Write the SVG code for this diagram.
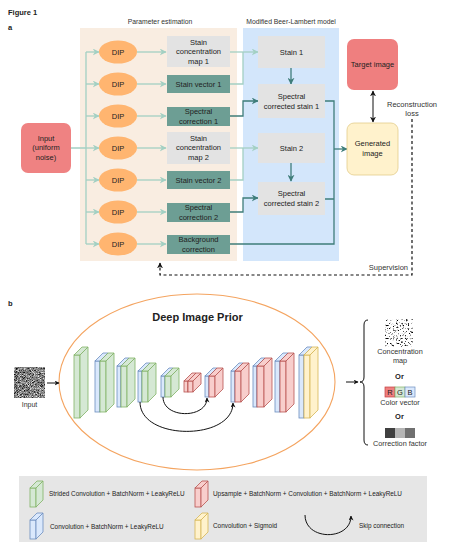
<svg xmlns="http://www.w3.org/2000/svg" width="474" height="552" viewBox="0 0 474 552">
<style>
text{font-family:"Liberation Sans",Arial,sans-serif;fill:#222}
.lbl{font-size:6.8px;fill:#333}
.bx{font-size:7.5px;text-anchor:middle}
.lg{font-size:6.4px}
.g{fill:#d5e8d4;stroke:#82b366;stroke-width:0.8}
.b{fill:#dae8fc;stroke:#6c8ebf;stroke-width:0.8}
.r{fill:#f8cecc;stroke:#b85450;stroke-width:0.8}
.y{fill:#fff2cc;stroke:#d6b656;stroke-width:0.8}
.gray{fill:#e3e3e3}
.teal{fill:#6d9e94}
.dip{fill:#ffb570}
.pale{fill:none;stroke:#a3d0c3;stroke-width:1.3}
.dark{fill:none;stroke:#3f7d7a;stroke-width:1.3}
.blk{fill:none;stroke:#111;stroke-width:1}
</style>
<defs>
<marker id="ap" viewBox="0 0 10 10" refX="9" refY="5" markerWidth="7" markerHeight="7" markerUnits="userSpaceOnUse" orient="auto-start-reverse"><path d="M0,0 L10,5 L0,10 L3,5 z" fill="#a3d0c3"/></marker>
<marker id="ad" viewBox="0 0 10 10" refX="9" refY="5" markerWidth="7" markerHeight="7" markerUnits="userSpaceOnUse" orient="auto-start-reverse"><path d="M0,0 L10,5 L0,10 L3,5 z" fill="#3f7d7a"/></marker>
<marker id="ak" viewBox="0 0 10 10" refX="9" refY="5" markerWidth="6" markerHeight="6" markerUnits="userSpaceOnUse" orient="auto-start-reverse"><path d="M0,0 L10,5 L0,10 L3,5 z" fill="#111"/></marker>
<marker id="aks" viewBox="0 0 10 10" refX="9" refY="5" markerWidth="5" markerHeight="5" markerUnits="userSpaceOnUse" orient="auto-start-reverse"><path d="M0,0 L10,5 L0,10 L3,5 z" fill="#111"/></marker>
<filter id="fn" x="0" y="0" width="1" height="1" color-interpolation-filters="sRGB">
<feTurbulence type="fractalNoise" baseFrequency="1.5" numOctaves="2" seed="7"/>
<feColorMatrix type="matrix" values="1 0 0 0 0 1 0 0 0 0 1 0 0 0 0 0 0 0 0 1"/>
<feComponentTransfer><feFuncR type="linear" slope="1.7" intercept="-0.35"/><feFuncG type="linear" slope="1.7" intercept="-0.35"/><feFuncB type="linear" slope="1.7" intercept="-0.35"/></feComponentTransfer>
</filter>
<filter id="fc" x="0" y="0" width="1" height="1" color-interpolation-filters="sRGB">
<feTurbulence type="fractalNoise" baseFrequency="0.6" numOctaves="3" seed="11"/>
<feColorMatrix type="matrix" values="1 0 0 0 0 1 0 0 0 0 1 0 0 0 0 0 0 0 0 1"/>
<feComponentTransfer><feFuncR type="linear" slope="5" intercept="-1.2"/><feFuncG type="linear" slope="5" intercept="-1.2"/><feFuncB type="linear" slope="5" intercept="-1.2"/></feComponentTransfer>
</filter>
</defs>
<rect width="474" height="552" fill="#fff"/>

<text x="8" y="15" style="font-size:7.5px;font-weight:bold">Figure 1</text>
<text x="8" y="30" style="font-size:7.5px;font-weight:bold">a</text>
<text x="8" y="306" style="font-size:7.5px;font-weight:bold">b</text>

<!-- panels -->
<g id="panel-param">
<rect x="80" y="28" width="157" height="233" fill="#f9ede1"/>
<text class="lbl" x="160" y="24" text-anchor="middle">Parameter estimation</text>
</g>
<g id="panel-mbl">
<rect x="243" y="28" width="96" height="233" fill="#d3e6fb"/>
<text class="lbl" x="291" y="24" text-anchor="middle">Modified Beer-Lambert model</text>
</g>

<!-- connectors part a -->
<g id="connectors-a">
<path class="pale" d="M71 148 H86 M86 52 V244"/>
<path class="pale" marker-end="url(#ap)" d="M86 52 H99"/>
<path class="pale" marker-end="url(#ap)" d="M86 84 H99"/>
<path class="pale" marker-end="url(#ap)" d="M86 116 H99"/>
<path class="pale" marker-end="url(#ap)" d="M86 148 H99"/>
<path class="pale" marker-end="url(#ap)" d="M86 180 H99"/>
<path class="pale" marker-end="url(#ap)" d="M86 212 H99"/>
<path class="pale" marker-end="url(#ap)" d="M86 244 H99"/>
<path class="pale" marker-end="url(#ap)" d="M137 52 H166"/>
<path class="pale" marker-end="url(#ap)" d="M137 84 H166"/>
<path class="pale" marker-end="url(#ap)" d="M137 116 H166"/>
<path class="pale" marker-end="url(#ap)" d="M137 148 H166"/>
<path class="pale" marker-end="url(#ap)" d="M137 180 H166"/>
<path class="pale" marker-end="url(#ap)" d="M137 212 H166"/>
<path class="pale" marker-end="url(#ap)" d="M137 244 H166"/>
<path class="pale" marker-end="url(#ap)" d="M230 52 H258"/>
<path class="pale" d="M230 84 H243 V52"/>
<path class="pale" marker-end="url(#ap)" d="M230 148 H258"/>
<path class="pale" d="M230 180 H243 V148"/>
<path class="dark" marker-end="url(#ad)" d="M230 116 H243 V101 H258"/>
<path class="dark" marker-end="url(#ad)" d="M230 212 H243 V198 H258"/>
<path class="dark" marker-end="url(#ad)" d="M291 68 V84"/>
<path class="dark" marker-end="url(#ad)" d="M291 163 V181"/>
<path class="dark" d="M325 101 H334 V244 H230 M325 199 H334"/>
<path class="dark" marker-end="url(#ad)" d="M334 149 H347"/>
<path class="blk" stroke-width="1.3" marker-start="url(#ak)" marker-end="url(#ak)" d="M373 91 V122"/>
<path fill="none" stroke="#111" stroke-width="1.2" stroke-dasharray="3,2.5" marker-end="url(#ak)" d="M412 119 V275 H160 V263"/>
</g>

<g id="input"><rect x="21" y="123" width="50" height="50" rx="7" fill="#ef8282"/>
<text class="bx" x="46" y="140.5">Input</text><text class="bx" x="46" y="150">(uniform</text><text class="bx" x="46" y="159.5">noise)</text></g>

<g id="dip1"><ellipse class="dip" cx="118" cy="52" rx="19" ry="11.5"/><text class="bx" x="118" y="54.7">DIP</text></g>
<g id="dip2"><ellipse class="dip" cx="118" cy="84" rx="19" ry="11.5"/><text class="bx" x="118" y="86.7">DIP</text></g>
<g id="dip3"><ellipse class="dip" cx="118" cy="116" rx="19" ry="11.5"/><text class="bx" x="118" y="118.7">DIP</text></g>
<g id="dip4"><ellipse class="dip" cx="118" cy="148" rx="19" ry="11.5"/><text class="bx" x="118" y="150.7">DIP</text></g>
<g id="dip5"><ellipse class="dip" cx="118" cy="180" rx="19" ry="11.5"/><text class="bx" x="118" y="182.7">DIP</text></g>
<g id="dip6"><ellipse class="dip" cx="118" cy="212" rx="19" ry="11.5"/><text class="bx" x="118" y="214.7">DIP</text></g>
<g id="dip7"><ellipse class="dip" cx="118" cy="244" rx="19" ry="11.5"/><text class="bx" x="118" y="246.7">DIP</text></g>

<g id="conc1"><rect class="gray" x="167" y="36" width="63" height="31"/>
<text class="bx" x="198.5" y="44.5">Stain</text><text class="bx" x="198.5" y="54.2">concentration</text><text class="bx" x="198.5" y="63.9">map 1</text></g>
<g id="vec1"><rect class="teal" x="167" y="75" width="63" height="18"/><text class="bx" x="198.5" y="86.7">Stain vector 1</text></g>
<g id="spec1"><rect class="teal" x="167" y="107" width="63" height="19"/>
<text class="bx" x="198.5" y="114.2">Spectral</text><text class="bx" x="198.5" y="123.9">correction 1</text></g>
<g id="conc2"><rect class="gray" x="167" y="132" width="63" height="32"/>
<text class="bx" x="198.5" y="140.5">Stain</text><text class="bx" x="198.5" y="150.2">concentration</text><text class="bx" x="198.5" y="159.9">map 2</text></g>
<g id="vec2"><rect class="teal" x="167" y="171" width="63" height="18"/><text class="bx" x="198.5" y="182.7">Stain vector 2</text></g>
<g id="spec2"><rect class="teal" x="167" y="203" width="63" height="19"/>
<text class="bx" x="198.5" y="210.2">Spectral</text><text class="bx" x="198.5" y="219.9">correction 2</text></g>
<g id="bg"><rect class="teal" x="167" y="235" width="63" height="19"/>
<text class="bx" x="198.5" y="242.2">Background</text><text class="bx" x="198.5" y="251.9">correction</text></g>

<g id="stain1"><rect class="gray" x="258" y="36" width="67" height="32"/><text class="bx" x="291.5" y="54.7">Stain 1</text></g>
<g id="scs1"><rect class="gray" x="258" y="84" width="67" height="34"/>
<text class="bx" x="291.5" y="99.2">Spectral</text><text class="bx" x="291.5" y="108.9">corrected stain 1</text></g>
<g id="stain2"><rect class="gray" x="258" y="133" width="67" height="30"/><text class="bx" x="291.5" y="150.7">Stain 2</text></g>
<g id="scs2"><rect class="gray" x="258" y="182" width="67" height="33"/>
<text class="bx" x="291.5" y="196.2">Spectral</text><text class="bx" x="291.5" y="205.9">corrected stain 2</text></g>

<g id="target"><rect x="347" y="39" width="51" height="51" rx="7" fill="#ef7f7f"/><text class="bx" x="372.5" y="67">Target image</text></g>
<g id="generated"><rect x="347" y="123" width="51" height="52" rx="7" fill="#fff2cc" stroke="#e3cd8c" stroke-width="0.8"/>
<text class="bx" x="372.5" y="146">Generated</text><text class="bx" x="372.5" y="155.7">image</text></g>

<g id="labels-a">
<text class="bx" x="412" y="106.5" style="fill:#333">Reconstruction</text>
<text class="bx" x="412" y="116" style="fill:#333">loss</text>
<text class="bx" x="408" y="269.5" style="text-anchor:end;fill:#333">Supervision</text>
</g>

<!-- part b -->
<g id="input-b">
<rect x="14" y="367" width="31" height="31" fill="#888" filter="url(#fn)"/>
<text class="bx" x="29.5" y="406.5" style="font-size:7px;fill:#333">Input</text>
</g>

<g id="dip-ellipse">
<ellipse cx="197" cy="382" rx="138" ry="88" fill="none" stroke="#f4a460" stroke-width="1.1"/>
<text x="197.5" y="321" text-anchor="middle" style="font-size:11px;font-weight:bold">Deep Image Prior</text>
</g>

<g id="layers">
<g id="l1"><rect class="g" x="74" y="355" width="6" height="63"/><polygon class="g" points="74,355 82,347 88,347 80,355"/><polygon class="g" points="80,355 88,347 88,410 80,418"/></g>
<g id="l2"><rect class="b" x="95" y="361" width="5" height="51"/><polygon class="b" points="95,361 103,353 108,353 100,361"/><polygon class="b" points="100,361 108,353 108,404 100,412"/>
<rect class="g" x="100" y="361" width="6" height="51"/><polygon class="g" points="100,361 108,353 114,353 106,361"/><polygon class="g" points="106,361 114,353 114,404 106,412"/></g>
<g id="l3"><rect class="b" x="117" y="366" width="4" height="41"/><polygon class="b" points="117,366 125,358 129,358 121,366"/><polygon class="b" points="121,366 129,358 129,399 121,407"/>
<rect class="g" x="121" y="366" width="6" height="41"/><polygon class="g" points="121,366 129,358 135,358 127,366"/><polygon class="g" points="127,366 135,358 135,399 127,407"/></g>
<g id="l4"><rect class="b" x="138" y="371" width="4" height="31"/><polygon class="b" points="138,371 146,363 150,363 142,371"/><polygon class="b" points="142,371 150,363 150,394 142,402"/>
<rect class="g" x="142" y="371" width="6" height="31"/><polygon class="g" points="142,371 150,363 156,363 148,371"/><polygon class="g" points="148,371 156,363 156,394 148,402"/></g>
<g id="l5"><rect class="b" x="161" y="376" width="4" height="21"/><polygon class="b" points="161,376 169,368 173,368 165,376"/><polygon class="b" points="165,376 173,368 173,389 165,397"/>
<rect class="g" x="165" y="376" width="6" height="21"/><polygon class="g" points="165,376 173,368 179,368 171,376"/><polygon class="g" points="171,376 179,368 179,389 171,397"/></g>
<g id="l6"><rect class="r" x="184" y="381" width="4" height="11"/><polygon class="r" points="184,381 192,373 196,373 188,381"/><polygon class="r" points="188,381 196,373 196,384 188,392"/>
<rect class="r" x="188" y="381" width="5" height="11"/><polygon class="r" points="188,381 196,373 201,373 193,381"/><polygon class="r" points="193,381 201,373 201,384 193,392"/></g>
<g id="l7"><rect class="b" x="205" y="376" width="4" height="21"/><polygon class="b" points="205,376 213,368 217,368 209,376"/><polygon class="b" points="209,376 217,368 217,389 209,397"/>
<rect class="r" x="209" y="376" width="6" height="21"/><polygon class="r" points="209,376 217,368 223,368 215,376"/><polygon class="r" points="215,376 223,368 223,389 215,397"/></g>
<g id="l8"><rect class="b" x="231" y="371" width="4" height="31"/><polygon class="b" points="231,371 239,363 243,363 235,371"/><polygon class="b" points="235,371 243,363 243,394 235,402"/>
<rect class="r" x="235" y="371" width="6" height="31"/><polygon class="r" points="235,371 243,363 249,363 241,371"/><polygon class="r" points="241,371 249,363 249,394 241,402"/></g>
<g id="l9"><rect class="b" x="253" y="366" width="4" height="41"/><polygon class="b" points="253,366 261,358 265,358 257,366"/><polygon class="b" points="257,366 265,358 265,399 257,407"/>
<rect class="r" x="257" y="366" width="7" height="41"/><polygon class="r" points="257,366 265,358 272,358 264,366"/><polygon class="r" points="264,366 272,358 272,399 264,407"/></g>
<g id="l10"><rect class="b" x="275" y="361" width="5" height="51"/><polygon class="b" points="275,361 283,353 288,353 280,361"/><polygon class="b" points="280,361 288,353 288,404 280,412"/>
<rect class="r" x="280" y="361" width="6" height="51"/><polygon class="r" points="280,361 288,353 294,353 286,361"/><polygon class="r" points="286,361 294,353 294,404 286,412"/></g>
<g id="l11"><rect class="b" x="299" y="355" width="5" height="63"/><polygon class="b" points="299,355 307,347 312,347 304,355"/><polygon class="b" points="304,355 312,347 312,410 304,418"/>
<rect class="y" x="304" y="355" width="6" height="63"/><polygon class="y" points="304,355 312,347 318,347 310,355"/><polygon class="y" points="310,355 318,347 318,410 310,418"/></g>
</g>

<g id="connectors-b">
<path class="blk" marker-end="url(#aks)" d="M47 383 H59"/>
<path class="blk" marker-end="url(#aks)" d="M163 397 C163 419 207 419 207 398"/>
<path class="blk" marker-end="url(#aks)" d="M140 402 C140 441 233 441 233 403"/>
<path class="blk" marker-end="url(#aks)" d="M346 382 H358"/>
<path class="blk" d="M368 320 Q364 320 364 325 V377 Q364 382 360 382 Q364 382 364 387 V440 Q364 445 368 445"/>
</g>

<g id="outputs">
<rect x="385" y="319" width="28" height="28" fill="#888" filter="url(#fc)"/>
<text class="bx" x="400" y="354" style="font-size:7.3px;fill:#333">Concentration</text>
<text class="bx" x="400" y="363" style="font-size:7.3px;fill:#333">map</text>
<text class="bx" x="399.5" y="379" style="font-size:7.5px;font-weight:bold">Or</text>
<rect x="385" y="387" width="10" height="10" fill="#ef7f7f" stroke="#c04040" stroke-width="0.7"/>
<rect x="395" y="387" width="10" height="10" fill="#d5e8d4" stroke="#82b366" stroke-width="0.7"/>
<rect x="405" y="387" width="10" height="10" fill="#dae8fc" stroke="#6c8ebf" stroke-width="0.7"/>
<text class="bx" x="390" y="394.8" style="font-size:7.5px">R</text>
<text class="bx" x="400" y="394.8" style="font-size:7.5px">G</text>
<text class="bx" x="410" y="394.8" style="font-size:7.5px">B</text>
<text class="bx" x="400" y="405" style="font-size:7.3px;fill:#333">Color vector</text>
<text class="bx" x="399.5" y="419" style="font-size:7.5px;font-weight:bold">Or</text>
<rect x="385" y="428" width="10" height="10" fill="#404040"/>
<rect x="395" y="428" width="10" height="10" fill="#b5b5b5"/>
<rect x="405" y="428" width="10" height="10" fill="#707070"/>
<text class="bx" x="400" y="446" style="font-size:7.3px;fill:#333">Correction factor</text>
</g>

<g id="legend">
<rect x="19" y="476" width="408" height="66" fill="#e6e6e6"/>
<g id="lg-green"><rect class="g" x="30" y="488" width="6" height="19"/><polygon class="g" points="30,488 37,481 43,481 36,488"/><polygon class="g" points="36,488 43,481 43,500 36,507"/>
<text class="lg" x="49" y="495.5">Strided Convolution + BatchNorm + LeakyReLU</text></g>
<g id="lg-blue"><rect class="b" x="30" y="520" width="6" height="19"/><polygon class="b" points="30,520 37,513 43,513 36,520"/><polygon class="b" points="36,520 43,513 43,532 36,539"/>
<text class="lg" x="50" y="528.5">Convolution + BatchNorm + LeakyReLU</text></g>
<g id="lg-red"><rect class="r" x="195" y="488" width="6" height="19"/><polygon class="r" points="195,488 202,481 208,481 201,488"/><polygon class="r" points="201,488 208,481 208,500 201,507"/>
<text class="lg" x="213" y="495.5">Upsample + BatchNorm + Convolution + BatchNorm + LeakyReLU</text></g>
<g id="lg-yellow"><rect class="y" x="195" y="520" width="6" height="19"/><polygon class="y" points="195,520 202,513 208,513 201,520"/><polygon class="y" points="201,520 208,513 208,532 201,539"/>
<text class="lg" x="213" y="527.5">Convolution + Sigmoid</text></g>
<g id="lg-skip"><path class="blk" marker-end="url(#aks)" d="M305 515 C305 541 351 541 351 516"/>
<text class="lg" x="359" y="527.5">Skip connection</text></g>
</g>
</svg>
